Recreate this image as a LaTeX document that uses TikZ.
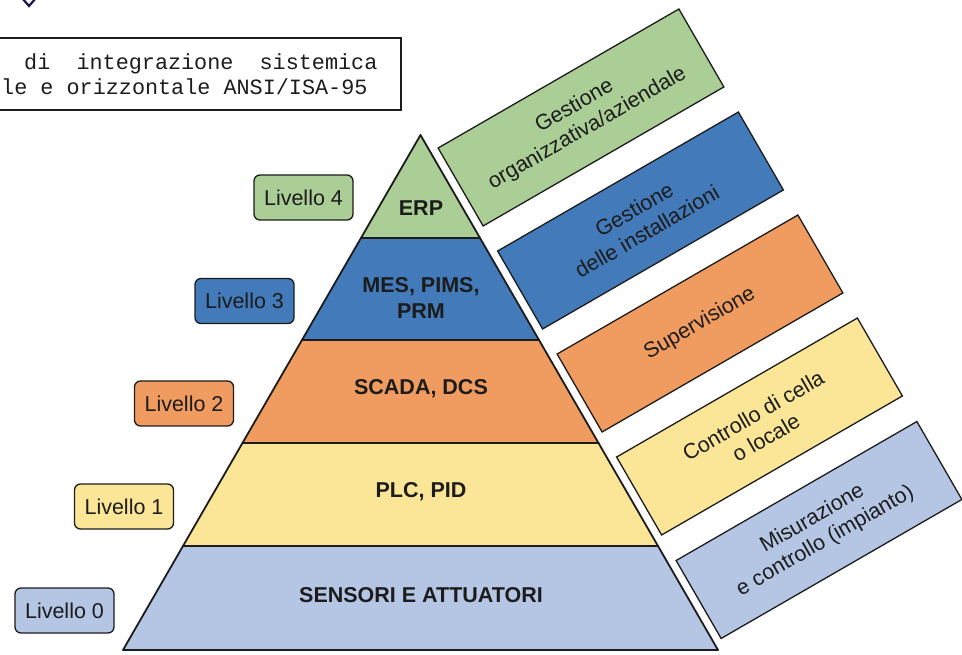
\documentclass[tikz,border=0pt]{standalone}
\usepackage{fontspec}
\setmainfont{Liberation Sans}
\setmonofont{Liberation Mono}
\definecolor{cgreen}{HTML}{AACE96}
\definecolor{cblue}{HTML}{437ABA}
\definecolor{corange}{HTML}{F09B5F}
\definecolor{cyellow}{HTML}{FAE696}
\definecolor{clblue}{HTML}{B4C6E4}
\definecolor{ink}{HTML}{1C1C1C}
\begin{document}
\begin{tikzpicture}[x=1pt,y=1pt,
  layer/.style={draw=ink, line width=1.8pt, line join=round},
  ltext/.style={font=\fontsize{21.5}{26}\selectfont\bfseries, text=ink, align=center, inner sep=0pt},
  lvl/.style={draw=ink, line width=1.3pt, rounded corners=6pt, minimum width=99pt, minimum height=45pt, inner sep=0pt, font=\fontsize{21.5}{24}\selectfont, text=ink},
  func/.style={draw=ink, line width=1.3pt, rotate=30, minimum width=278pt, minimum height=90pt, inner sep=0pt, align=center, font=\fontsize{21.5}{25.5}\selectfont, text=ink},
  mono/.style={font=\fontsize{21.8}{25}\ttfamily, text=ink, inner sep=0pt}]
\useasboundingbox (0,0) rectangle (962,654);
\begin{scope}
\clip (0,0) rectangle (962,654);
% small icon at top
\draw[draw=ink!80!blue, line width=2.2pt, line join=miter] (22,656) -- (29,648) -- (36,656);
% text box
\draw[line width=1.3pt, draw=ink] (-5,616) rectangle (401,544);
\node[mono, anchor=base west] (t1) at (24,584) {di\ \ integrazione\ \ sistemica};
\node[mono, anchor=base west] (t2) at (1,559) {le e orizzontale ANSI/ISA-95};
% pyramid
\filldraw[layer, fill=clblue] (183,108) -- (658,108) -- (718,4) -- (123,4) -- cycle;
\filldraw[layer, fill=cyellow] (242.5,211) -- (598.5,211) -- (658,108) -- (183,108) -- cycle;
\filldraw[layer, fill=corange] (302,314) -- (539,314) -- (598.5,211) -- (242.5,211) -- cycle;
\filldraw[layer, fill=cblue] (361,416) -- (480,416) -- (539,314) -- (302,314) -- cycle;
\filldraw[layer, fill=cgreen] (420.5,519) -- (480,416) -- (361,416) -- cycle;
\node[ltext] (erp) at (421,446) {ERP};
\node[ltext] (mes) at (421,356) {MES, PIMS,\\PRM};
\node[ltext] (scada) at (421,265) {SCADA, DCS};
\node[ltext] (plc) at (421,162) {PLC, PID};
\node[ltext] (sens) at (421,59) {SENSORI E ATTUATORI};
% level labels
\node[lvl, fill=cgreen] (l4) at (303.5,456.5) {Livello 4};
\node[lvl, fill=cblue] (l3) at (244.5,353) {Livello 3};
\node[lvl, fill=corange] (l2) at (184,250.5) {Livello 2};
\node[lvl, fill=cyellow] (l1) at (124,147.5) {Livello 1};
\node[lvl, fill=clblue] (l0) at (64.5,43.5) {Livello 0};
% function boxes
\node[func, fill=cgreen] (f4) at (581,536.5) {Gestione\\organizzativa/aziendale};
\node[func, fill=cblue] (f3) at (640.5,433.5) {Gestione\\delle installazioni};
\node[func, fill=corange] (f2) at (700,330.5) {Supervisione};
\node[func, fill=cyellow] (f1) at (759.5,227.5) {Controllo di cella\\o locale};
\node[func, fill=clblue] (f0) at (819,124) {Misurazione\\e controllo (impianto)};
\end{scope}
\end{tikzpicture}
\end{document}
